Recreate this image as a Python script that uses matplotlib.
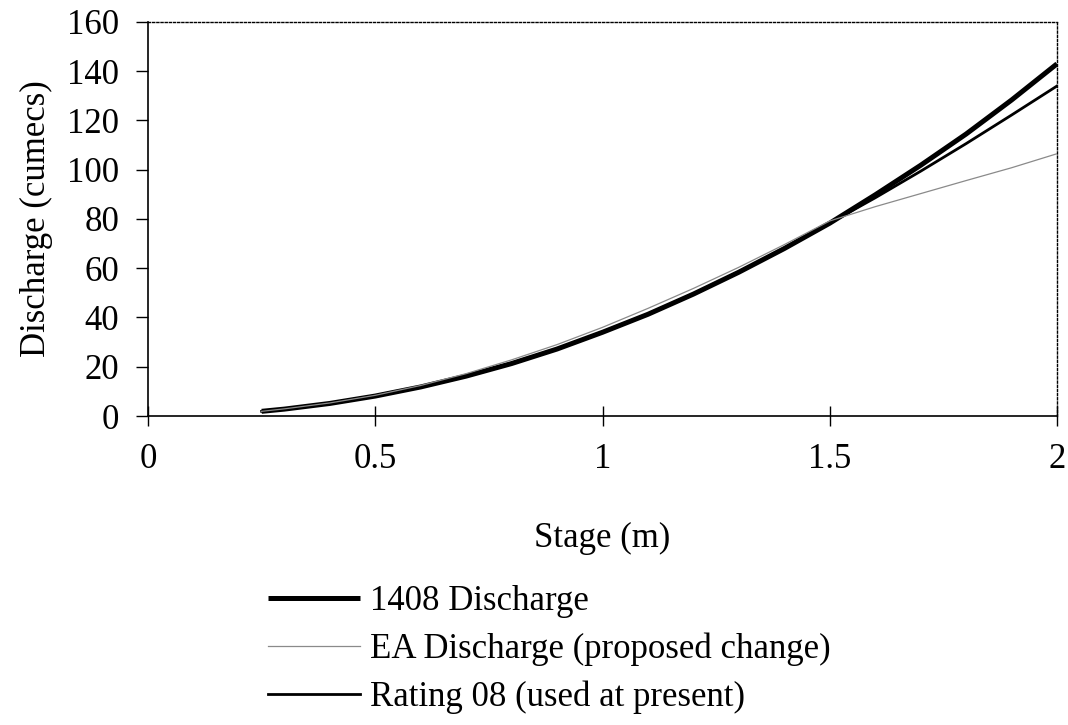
"""Stage-discharge rating curves for the gauging station."""

import matplotlib

matplotlib.use("Agg")
import matplotlib.pyplot as plt

plt.rcParams["font.family"] = ["Liberation Serif", "DejaVu Serif"]

# Stage (m) at which each curve was sampled
stage = [0.25, 0.3, 0.4, 0.5, 0.6, 0.7, 0.8, 0.9, 1.0, 1.1, 1.2, 1.3, 1.4, 1.5, 1.6, 1.7, 1.8, 1.9, 2.0]

# Discharge (cumecs)
q_1408 = [1.9, 2.8, 5.1, 8.1, 11.8, 16.2, 21.3, 27.2, 34.0, 41.3, 49.5, 58.4, 68.0, 78.3, 89.8, 101.8, 114.5, 128.3, 143.0]
q_ea = [1.9, 2.9, 5.3, 8.4, 12.4, 17.2, 22.8, 29.0, 36.0, 43.7, 51.8, 60.4, 69.6, 79.2, 85.0, 90.3, 95.6, 100.8, 106.5]
q_rating08 = [1.9, 2.8, 5.1, 8.1, 11.8, 16.2, 21.3, 27.2, 34.0, 41.3, 49.5, 58.4, 68.0, 78.3, 88.6, 99.4, 110.6, 122.2, 134.0]

x_ticks = [0, 0.5, 1, 1.5, 2]
x_tick_labels = ["0", "0.5", "1", "1.5", "2"]
y_ticks = list(range(0, 161, 20))

FS = 25

fig = plt.figure(figsize=(10.68, 7.25), dpi=100)
ax = fig.add_axes([0.1386, 0.4262, 0.8511, 0.5435])

l1, = ax.plot(stage, q_1408, color="black", lw=3.6, solid_capstyle="butt", zorder=3)
l2, = ax.plot(stage, q_ea, color="#8a8a8a", lw=0.9, zorder=4)
l3, = ax.plot(stage, q_rating08, color="black", lw=2.0, zorder=3)

ax.set_xlim(0, 2)
ax.set_ylim(0, 160)
ax.set_xticks(x_ticks)
ax.set_xticklabels(x_tick_labels)
ax.set_yticks(y_ticks)

ax.tick_params(axis="y", direction="out", length=8.6, width=1.0, pad=12, labelsize=FS)
ax.tick_params(axis="x", direction="inout", length=15, width=1.0, pad=12, labelsize=FS)

for side in ("left", "bottom"):
    ax.spines[side].set_linewidth(1.2)
for side in ("top", "right"):
    ax.spines[side].set_linestyle((0, (1.5, 1.5)))
    ax.spines[side].set_linewidth(1.0)

ax.set_xlabel("Stage (m)", fontsize=FS, labelpad=33)
ax.set_ylabel("Discharge (cumecs)", fontsize=FS, labelpad=10)

fig.legend(
    [l1, l2, l3],
    ["1408 Discharge", "EA Discharge (proposed change)", "Rating 08 (used at present)"],
    loc="upper left",
    bbox_to_anchor=(0.251, 0.193),
    frameon=False,
    fontsize=FS,
    handlelength=2.65,
    handletextpad=0.3,
    labelspacing=0.42,
    borderaxespad=0,
    borderpad=0,
)

fig.savefig("out.png", dpi=100)
